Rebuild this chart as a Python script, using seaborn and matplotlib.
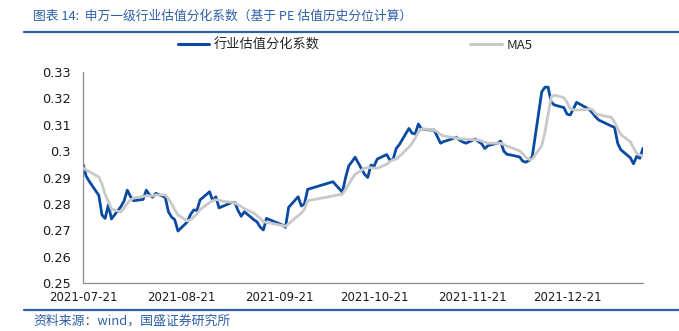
import matplotlib
matplotlib.use("Agg")
import matplotlib.pyplot as plt
import matplotlib.colors as mcolors
import pandas as pd
import seaborn as sns
from matplotlib.lines import Line2D

# Trading days covered by the series
dates = [
    "2021-07-21", "2021-07-22", "2021-07-23", "2021-07-26", "2021-07-27", "2021-07-28", "2021-07-29", "2021-07-30",
    "2021-08-02", "2021-08-03", "2021-08-04", "2021-08-05", "2021-08-06",
    "2021-08-09", "2021-08-10", "2021-08-11", "2021-08-12", "2021-08-13",
    "2021-08-16", "2021-08-17", "2021-08-18", "2021-08-19", "2021-08-20",
    "2021-08-23", "2021-08-24", "2021-08-25", "2021-08-26", "2021-08-27",
    "2021-08-30", "2021-08-31", "2021-09-01", "2021-09-02", "2021-09-03",
    "2021-09-06", "2021-09-07", "2021-09-08", "2021-09-09", "2021-09-10",
    "2021-09-13", "2021-09-14", "2021-09-15", "2021-09-16", "2021-09-17",
    "2021-09-22", "2021-09-23", "2021-09-24",
    "2021-09-27", "2021-09-28", "2021-09-29", "2021-09-30",
    "2021-10-08",
    "2021-10-11", "2021-10-12", "2021-10-13", "2021-10-14", "2021-10-15",
    "2021-10-18", "2021-10-19", "2021-10-20", "2021-10-21", "2021-10-22",
    "2021-10-25", "2021-10-26", "2021-10-27", "2021-10-28", "2021-10-29",
    "2021-11-01", "2021-11-02", "2021-11-03", "2021-11-04", "2021-11-05",
    "2021-11-08", "2021-11-09", "2021-11-10", "2021-11-11", "2021-11-12",
    "2021-11-15", "2021-11-16", "2021-11-17", "2021-11-18", "2021-11-19",
    "2021-11-22", "2021-11-23", "2021-11-24", "2021-11-25", "2021-11-26",
    "2021-11-29", "2021-11-30", "2021-12-01", "2021-12-02", "2021-12-03",
    "2021-12-06", "2021-12-07", "2021-12-08", "2021-12-09", "2021-12-10",
    "2021-12-13", "2021-12-14", "2021-12-15", "2021-12-16", "2021-12-17",
    "2021-12-20", "2021-12-21", "2021-12-22", "2021-12-23", "2021-12-24",
    "2021-12-27", "2021-12-28", "2021-12-29", "2021-12-30", "2021-12-31",
    "2022-01-04", "2022-01-05", "2022-01-06", "2022-01-07",
    "2022-01-10", "2022-01-11", "2022-01-12", "2022-01-13", "2022-01-14",
]

# 行业估值分化系数
dispersion = [
    0.2951, 0.2905, 0.2885, 0.2832, 0.2758, 0.2745, 0.2796, 0.2743,
    0.2790, 0.2812, 0.2852, 0.2828, 0.2812,
    0.2817, 0.2852, 0.2835, 0.2825, 0.2840,
    0.2825, 0.2770, 0.2750, 0.2740, 0.2697,
    0.2732, 0.2760, 0.2777, 0.2775, 0.2815,
    0.2846, 0.2812, 0.2827, 0.2785, 0.2790,
    0.2805, 0.2805, 0.2775, 0.2753, 0.2770,
    0.2740, 0.2732, 0.2712, 0.2701, 0.2745,
    0.2720, 0.2711, 0.2787,
    0.2827, 0.2792, 0.2800, 0.2855,
    0.2884,
    0.2844, 0.2900, 0.2944, 0.2960, 0.2977,
    0.2912, 0.2900, 0.2947, 0.2943, 0.2970,
    0.2987, 0.2966, 0.2968, 0.3010, 0.3025,
    0.3086, 0.3068, 0.3065, 0.3103, 0.3084,
    0.3080, 0.3080, 0.3055, 0.3030, 0.3036,
    0.3048, 0.3053, 0.3042, 0.3035, 0.3030,
    0.3046, 0.3036, 0.3028, 0.3010, 0.3021,
    0.3030, 0.3038, 0.3000, 0.2988, 0.2986,
    0.2978, 0.2962, 0.2958, 0.2965, 0.2980,
    0.3225, 0.3242, 0.3243, 0.3185, 0.3175,
    0.3165, 0.3140, 0.3137, 0.3160, 0.3185,
    0.3165, 0.3158, 0.3145, 0.3130, 0.3118,
    0.3095, 0.3090, 0.3030, 0.3005,
    0.2975, 0.2952, 0.2980, 0.2973, 0.3011,
]

# MA5
ma5 = [
    0.2935, 0.2929, 0.2922, 0.2902, 0.2875, 0.2835, 0.2810, 0.2780,
    0.2769, 0.2785, 0.2802, 0.2815, 0.2822,
    0.2828, 0.2830, 0.2831, 0.2830, 0.2834,
    0.2834, 0.2820, 0.2800, 0.2778, 0.2758,
    0.2735, 0.2740, 0.2750, 0.2762, 0.2778,
    0.2805, 0.2812, 0.2816, 0.2814, 0.2810,
    0.2806, 0.2803, 0.2797, 0.2790, 0.2782,
    0.2765, 0.2755, 0.2745, 0.2732, 0.2730,
    0.2718, 0.2715, 0.2725,
    0.2755, 0.2765, 0.2780, 0.2812,
    0.2830,
    0.2837, 0.2855, 0.2875, 0.2895, 0.2912,
    0.2935, 0.2938, 0.2937, 0.2936, 0.2935,
    0.2950, 0.2960, 0.2967, 0.2970, 0.2980,
    0.3015, 0.3030, 0.3050, 0.3072, 0.3084,
    0.3082, 0.3080, 0.3073, 0.3063, 0.3057,
    0.3052, 0.3050, 0.3047, 0.3046, 0.3045,
    0.3043, 0.3042, 0.3038, 0.3034, 0.3030,
    0.3030, 0.3030, 0.3025, 0.3019, 0.3015,
    0.3001, 0.2990, 0.2976, 0.2968, 0.2970,
    0.3020, 0.3072, 0.3140, 0.3205, 0.3212,
    0.3203, 0.3185, 0.3160, 0.3157, 0.3156,
    0.3158, 0.3160, 0.3158, 0.3142, 0.3138,
    0.3128, 0.3110, 0.3085, 0.3063,
    0.3035, 0.3012, 0.2992, 0.2985, 0.2982,
]

series_names = ["行业估值分化系数", "MA5"]
tick_dates = ["2021-07-21", "2021-08-21", "2021-09-21", "2021-10-21", "2021-11-21", "2021-12-21"]
y_ticks = [0.25, 0.26, 0.27, 0.28, 0.29, 0.30, 0.31, 0.32, 0.33]
y_tick_labels = ["0.25", "0.26", "0.27", "0.28", "0.29", "0.3", "0.31", "0.32", "0.33"]

title_text = "图表 14:  申万一级行业估值分化系数（基于 PE 估值历史分位计算）"
source_text = "资料来源：wind，国盛证券研究所"

BLUE = "#0b4aa2"
GREY = "#c9c9c9"
HEAD_BLUE = "#2e5fa8"

sns.set_style("white")
plt.rcParams["font.family"] = ["Noto Sans CJK SC", "DejaVu Sans"]

df = pd.DataFrame({
    "date": pd.to_datetime(dates * 2),
    "value": dispersion + ma5,
    "series": [series_names[0]] * len(dates) + [series_names[1]] * len(dates),
})

fig = plt.figure(figsize=(6.79, 3.31), dpi=100)
ax = fig.add_axes([83 / 679, 1 - 283 / 331, 560 / 679, 211 / 331])

sns.lineplot(
    data=df, x="date", y="value", hue="series", hue_order=series_names,
    palette={series_names[0]: BLUE, series_names[1]: GREY},
    linewidth=2.0, ax=ax, legend=False,
)
# the moving average sits on top of the raw series
for line in ax.get_lines():
    line.set_solid_joinstyle("round")
    if mcolors.same_color(line.get_color(), GREY):
        line.set_zorder(3)
    else:
        line.set_zorder(2)

ax.set_xlim(pd.Timestamp("2021-07-21"), pd.Timestamp("2022-01-14"))
ax.set_ylim(0.25, 0.33)
ax.set_yticks(y_ticks)
ax.set_yticklabels(y_tick_labels, family="DejaVu Sans", fontsize=9.3)
ax.set_xticks(pd.to_datetime(tick_dates))
ax.set_xticklabels(tick_dates, family="DejaVu Sans", fontsize=8.5)
ax.set_xlabel("")
ax.set_ylabel("")

for side in ["top", "right"]:
    ax.spines[side].set_visible(False)
for side in ["left", "bottom"]:
    ax.spines[side].set_color("#8c8c8c")
    ax.spines[side].set_linewidth(0.9)
ax.tick_params(axis="both", direction="out", length=3, width=0.8, color="#8c8c8c",
               labelcolor="#1a1a1a")
ax.tick_params(axis="y", pad=6)
ax.tick_params(axis="x", pad=3)
ax.grid(False)

handles = [Line2D([], [], color=BLUE, linewidth=2.2), Line2D([], [], color=GREY, linewidth=2.2)]
fig.legend(handles, series_names, loc="center", bbox_to_anchor=(355 / 679, 1 - 45 / 331),
           ncol=2, frameon=False, fontsize=9.5, handlelength=2.4, handletextpad=0.35,
           columnspacing=11.4)

# Heading and footer with the house-style rules
fig.text(33 / 679, 1 - 16 / 331, title_text, color=HEAD_BLUE, fontsize=9.2,
         style="italic", va="center", ha="left")
fig.add_artist(Line2D([24 / 679, 1.0], [1 - 32 / 331] * 2, color=HEAD_BLUE, linewidth=1.6,
                      transform=fig.transFigure))
fig.add_artist(Line2D([24 / 679, 1.0], [1 - 310 / 331] * 2, color=HEAD_BLUE, linewidth=1.6,
                      transform=fig.transFigure))
fig.text(33 / 679, 1 - 321 / 331, source_text, color=HEAD_BLUE, fontsize=9.3,
         style="italic", va="center", ha="left")

fig.savefig("out.png", dpi=100)
